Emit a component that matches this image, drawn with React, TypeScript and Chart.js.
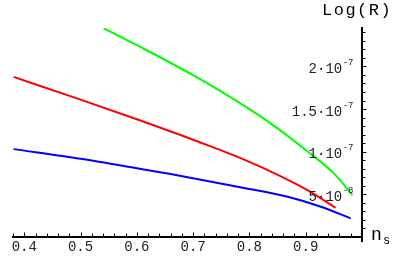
import { useEffect, useRef } from 'react';
import { Chart, registerables } from 'chart.js';

Chart.register(...registerables);

// n_s values and Log(R) values for each curve
const greenNs = [0.541, 0.6, 0.7, 0.8, 0.85, 0.9, 0.95, 0.983];
const greenR = [2.447e-7, 2.249e-7, 1.897e-7, 1.499e-7, 1.273e-7, 1.019e-7, 0.746e-7, 0.492e-7];

const redNs = [0.381, 0.5, 0.6, 0.7, 0.8, 0.9, 0.953];
const redR = [1.877e-7, 1.61e-7, 1.38e-7, 1.14e-7, 0.881e-7, 0.561e-7, 0.342e-7];

const blueNs = [0.381, 0.5, 0.6, 0.66, 0.779, 0.868, 0.927, 0.98];
const blueR = [1.03e-7, 0.916e-7, 0.806e-7, 0.738e-7, 0.589e-7, 0.472e-7, 0.355e-7, 0.219e-7];

const xTickValues = [0.4, 0.5, 0.6, 0.7, 0.8, 0.9];
const yTickValues = [5e-8, 1e-7, 1.5e-7, 2e-7];
const yTickMantissa = ['5·10', '1·10', '1.5·10', '2·10'];
const yTickExponent = ['-8', '-7', '-7', '-7'];

const yAxisTitle = 'Log(R)';
const xAxisTitle = 'n';
const xAxisTitleSub = 's';

const toPoints = (xs: number[], ys: number[]) => xs.map((x, i) => ({ x, y: ys[i] }));

const axisDecor = {
  id: 'axisDecor',
  afterDraw(chart: any) {
    const { ctx, scales } = chart;
    const xs = scales.x;
    const ys = scales.y;
    const yb = ys.getPixelForValue(0);
    const xr = xs.getPixelForValue(1.0);
    ctx.save();
    ctx.strokeStyle = '#000';
    ctx.lineWidth = 1;
    ctx.beginPath();
    for (let i = 19; i <= 50; i++) {
      const px = Math.round(xs.getPixelForValue(i / 50)) + 0.5;
      const len = i % 5 === 0 ? 3.5 : 2.5;
      ctx.moveTo(px, yb - 1);
      ctx.lineTo(px, yb - 1 - len);
    }
    for (let j = 1; j <= 24; j++) {
      const py = Math.round(ys.getPixelForValue(j * 1e-8)) + 0.5;
      const len = j % 5 === 0 ? 3.5 : 2.5;
      ctx.moveTo(xr + 1, py);
      ctx.lineTo(xr + 1 + len, py);
    }
    ctx.stroke();
    // y axis extends slightly below the x axis
    ctx.lineWidth = 2;
    ctx.beginPath();
    ctx.moveTo(xr, yb);
    ctx.lineTo(xr, yb + 5);
    ctx.stroke();

    // y tick labels with superscript exponents, placed at the scale's tick pixels
    ctx.fillStyle = '#222';
    ctx.textBaseline = 'alphabetic';
    ctx.textAlign = 'left';
    yTickValues.forEach((v, i) => {
      const py = ys.getPixelForValue(v);
      ctx.font = '9px "Liberation Mono"';
      const we = ctx.measureText(yTickExponent[i]).width;
      ctx.font = '14px "Liberation Mono"';
      const wb = ctx.measureText(yTickMantissa[i]).width;
      const right = xr - 8.5;
      ctx.fillText(yTickMantissa[i], right - we - 0.5 - wb, py + 6.5);
      ctx.font = '9px "Liberation Mono"';
      ctx.fillText(yTickExponent[i], right - we, py - 1.5);
    });

    ctx.fillStyle = '#000';
    (ctx as any).letterSpacing = '1.5px';
    ctx.font = '17px "Liberation Mono"';
    ctx.fillText(yAxisTitle, xr - 40, chart.chartArea.top - 13);
    (ctx as any).letterSpacing = '0px';
    ctx.font = '18px "Liberation Mono"';
    ctx.fillText(xAxisTitle, xr + 9, yb + 3);
    ctx.font = '12px "Liberation Mono"';
    ctx.fillText(xAxisTitleSub, xr + 21, yb + 7);
    ctx.restore();
  },
};

export default function App() {
  const ref = useRef<HTMLCanvasElement | null>(null);
  useEffect(() => {
    if (!ref.current) return;
    const chart = new Chart(ref.current, {
      type: 'line',
      data: {
        datasets: [
          { data: toPoints(greenNs, greenR), borderColor: '#00ff00' },
          { data: toPoints(redNs, redR), borderColor: '#ff0000' },
          { data: toPoints(blueNs, blueR), borderColor: '#0000ff' },
        ].map((d) => ({
          ...d,
          borderWidth: 2,
          pointRadius: 0,
          fill: false,
          cubicInterpolationMode: 'monotone' as const,
        })),
      },
      options: {
        animation: false,
        responsive: true,
        maintainAspectRatio: false,
        layout: { padding: { left: 13, top: 28, right: 0, bottom: 0 } },
        plugins: { legend: { display: false }, tooltip: { enabled: false } },
        scales: {
          x: {
            type: 'linear',
            min: 0.38,
            max: 1.0,
            position: 'bottom',
            afterFit: (s: any) => {
              s.height = 20;
            },
            afterBuildTicks: (s: any) => {
              s.ticks = xTickValues.map((v) => ({ value: v }));
            },
            grid: { display: true, drawOnChartArea: false, drawTicks: false },
            border: { display: true, color: '#000', width: 2 },
            ticks: {
              padding: 2,
              color: '#222',
              font: { family: 'Liberation Mono', size: 14 },
              maxRotation: 0,
              autoSkip: false,
              callback: (v: any) => Number(v).toFixed(1),
            },
          },
          y: {
            type: 'linear',
            min: 0,
            max: 2.45e-7,
            position: 'right',
            afterFit: (s: any) => {
              s.width = 53;
            },
            afterBuildTicks: (s: any) => {
              s.ticks = yTickValues.map((v) => ({ value: v }));
            },
            grid: { display: true, drawOnChartArea: false, drawTicks: false },
            border: { display: true, color: '#000', width: 2 },
            ticks: { display: false },
          },
        },
      },
      plugins: [axisDecor],
    });
    return () => chart.destroy();
  }, []);
  return (
    <div style={{ position: 'absolute', left: 0, top: 0, width: 415, height: 257 }}>
      <canvas ref={ref} />
    </div>
  );
}
